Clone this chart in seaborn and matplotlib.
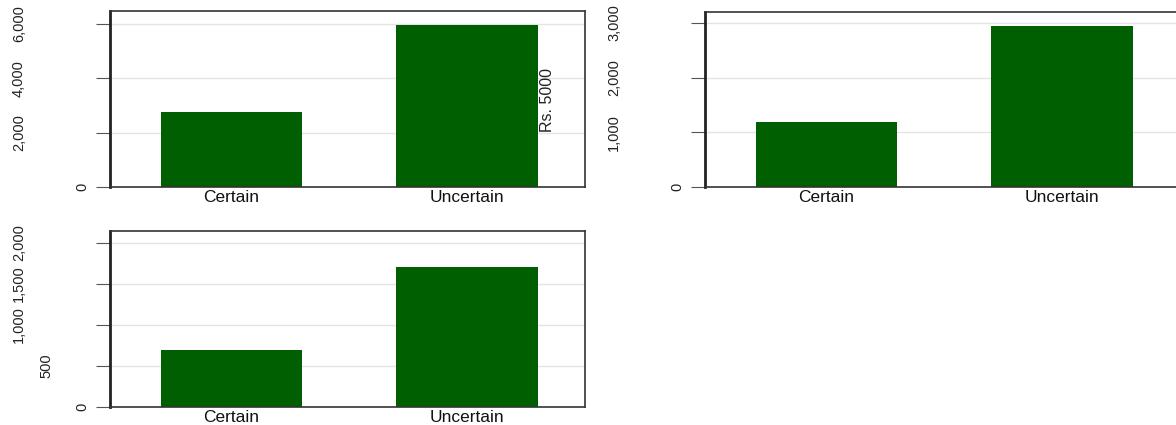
import matplotlib
matplotlib.use("Agg")
import matplotlib.pyplot as plt
import seaborn as sns
import pandas as pd
from matplotlib import font_manager
from matplotlib.transforms import blended_transform_factory

CATEGORIES = ["Certain", "Uncertain"]
PANEL1_VALUES = [2762, 5967]
PANEL2_VALUES = [1188, 2943]
PANEL3_VALUES = [691, 1709]

PANEL1_TICKS = [0, 2000, 4000, 6000]
PANEL2_TICKS = [0, 1000, 2000, 3000]
PANEL3_TICKS = [0, 500, 1000, 1500, 2000]

PANEL2_YLABEL = "Rs. 5000"

GREEN = "#005f00"
W, H = 1176, 425

sns.set_theme(style="white")
names = {f.name for f in font_manager.fontManager.ttflist}
NARROW = "Liberation Sans Narrow" if "Liberation Sans Narrow" in names else "Liberation Sans"
plt.rcParams["font.family"] = ["Liberation Sans", "DejaVu Sans"]


def draw_panel(ax, values, ticks, ymax):
    df = pd.DataFrame({"group": CATEGORIES, "value": values})
    sns.barplot(data=df, x="group", y="value", ax=ax, color=GREEN,
                saturation=1, width=0.6, edgecolor="none")
    ax.set_xlim(-0.515, 1.5)
    ax.set_ylim(0, ymax)
    ax.set_xlabel("")
    ax.set_ylabel("")
    ax.set_yticks(ticks)
    ax.set_yticklabels([])
    for t in ticks[1:]:
        ax.axhline(t, color="#e4e4e4", lw=1, zorder=0)
    ax.set_axisbelow(True)
    ax.tick_params(axis="y", left=True, length=10, width=0.8, color="#555555")
    ax.tick_params(axis="x", length=0, pad=2, labelsize=12.5, labelcolor="#111111")
    for s in ax.spines.values():
        s.set_color("#333333")
        s.set_linewidth(1.2)
    ax.spines["left"].set_linewidth(2)
    ax.spines["left"].set_color("#222222")

    # rotated y labels, shifted further left the longer they are
    trans = blended_transform_factory(ax.transAxes, ax.transData)
    for t in ticks:
        lab = f"{t:,}"
        ndig = sum(c.isdigit() for c in lab)
        ncom = lab.count(",")
        dx = 28 + 18 * (ndig - 1) + 9 * ncom
        ax.annotate(lab, xy=(0, t), xycoords=trans, xytext=(-dx, 0),
                    textcoords="offset pixels", rotation=90,
                    ha="center", va="center", fontsize=10.5,
                    family=[NARROW, "DejaVu Sans"], color="#222222")


fig = plt.figure(figsize=(W / 100, H / 100), dpi=100)
fig.patch.set_facecolor("white")

ax1 = fig.add_axes([110 / W, 1 - 187 / H, 475 / W, 176 / H])
ax2 = fig.add_axes([705 / W, 1 - 187 / H, 475 / W, 175 / H])
ax3 = fig.add_axes([110 / W, 1 - 407 / H, 475 / W, 176 / H])

draw_panel(ax1, PANEL1_VALUES, PANEL1_TICKS, 6480)
draw_panel(ax2, PANEL2_VALUES, PANEL2_TICKS, 3200)
draw_panel(ax3, PANEL3_VALUES, PANEL3_TICKS, 2145)

fig.text(548 / W, 1 - 100 / H, PANEL2_YLABEL, rotation=90, ha="center",
         va="center", fontsize=11.5, family=[NARROW, "DejaVu Sans"], color="#222222")

fig.savefig("out.png", dpi=100, facecolor="white")
